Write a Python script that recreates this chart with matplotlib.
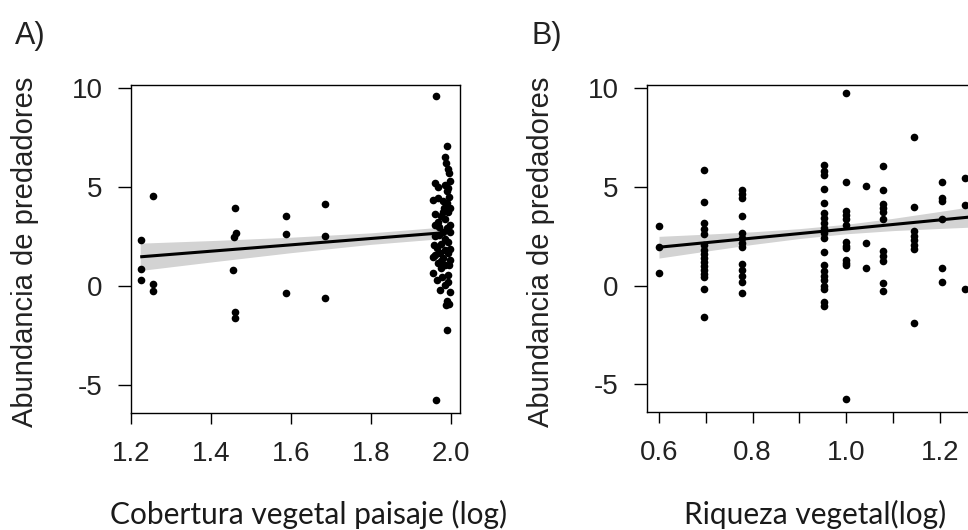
import matplotlib
matplotlib.use("Agg")
import matplotlib.pyplot as plt
import numpy as np

# ---------------- data: panel A ----------------
cobertura_log = [1.224, 1.224, 1.224, 1.254, 1.254, 1.254,
                 1.460, 1.462, 1.458, 1.455, 1.460, 1.460,
                 1.587, 1.587, 1.587, 1.686, 1.686, 1.686,
                 1.963, 1.990, 1.985, 1.987, 1.993, 1.995, 1.960, 1.967, 1.985, 1.993,
                 1.997, 1.990, 1.955, 1.967, 1.990, 1.993, 1.960, 1.980, 1.997, 1.975,
                 1.985, 1.960, 1.967, 1.997, 1.997, 1.980, 1.960, 1.970, 1.985, 1.992,
                 1.975, 1.997, 1.965, 1.985, 1.960, 1.972, 1.992, 1.997, 1.980, 1.967,
                 1.985, 1.975, 1.955, 1.978, 1.992, 1.992, 1.985, 1.972, 1.997, 1.990,
                 1.995, 1.987, 1.990, 1.963, 1.955, 1.958, 1.995, 1.980, 1.970, 1.990,
                 1.975, 1.995, 1.965, 1.982]
abundancia_A = [2.32, 0.89, 0.30, 4.55, 0.13, -0.24,
                3.92, 2.66, 2.49, 0.81, -1.30, -1.63,
                3.54, 2.61, -0.32, 4.14, 2.54, -0.62,
                9.60, 7.07, 6.50, 6.20, 5.90, 5.70, 5.20, 5.00, 5.10, 4.95,
                5.30, 4.80, 4.35, 4.45, 4.20, 3.75, 3.65, 3.75, 3.95, 3.55,
                3.40, 3.10, 3.25, 3.10, 2.75, 2.75, 2.55, 2.60, 2.40, 2.25,
                2.15, 1.90, 1.95, 1.80, 1.55, 1.65, 1.65, 1.30, 1.40, 1.15,
                1.05, 0.90, 0.65, 0.45, 0.55, 0.22, 0.05, -0.20, -0.29, -0.75,
                -0.90, -0.95, -2.22, -5.76, 1.45, 2.10, 4.50, 4.30, 3.00, 2.95,
                1.25, 1.05, 0.30, 3.95]
fitA_x = [1.223, 1.99]
fitA_y = [1.48, 2.71]
bandA_x = [1.223, 1.40, 1.60, 1.80, 1.99]
bandA_lo = [0.79, 1.22, 1.69, 2.11, 2.42]
bandA_hi = [2.17, 2.30, 2.47, 2.69, 3.00]

# ---------------- data: panel B ----------------
riqueza_levels = [0.600, 0.697, 0.777, 0.952, 0.999, 1.042, 1.079, 1.144, 1.204, 1.254]
abundancia_B = [
    [2.99, 1.93, 0.65],
    [5.85, 4.25, 3.16, 2.86, 2.60, 2.05, 1.80, 1.60, 1.40, 1.20, 1.00, 0.80, 0.60, 0.45, -0.15, -1.57],
    [4.82, 4.65, 4.45, 3.52, 2.65, 2.40, 2.15, 1.95, 1.08, 0.80, 0.50, 0.19, -0.37],
    [6.10, 5.80, 5.60, 4.90, 4.20, 3.65, 3.40, 3.15, 2.90, 2.65, 2.40, 1.70, 1.05, 0.75, 0.50, 0.30, 0.00, -0.20, -0.85, -1.05],
    [9.75, 5.25, 3.75, 3.55, 3.35, 3.05, 2.20, 2.00, 1.90, 1.30, 1.15, 1.05, -5.75],
    [5.05, 2.15, 0.90],
    [6.05, 4.85, 4.15, 3.90, 3.70, 3.35, 1.75, 1.50, 1.25, 0.15, -0.30],
    [7.50, 4.00, 2.75, 2.50, 2.30, 2.05, 1.85, -1.90],
    [5.25, 4.45, 4.30, 3.35, 0.87, 0.20],
    [5.45, 4.10, -0.15],
]
fitB_x = [0.60, 1.30]
fitB_y = [1.94, 3.55]
bandB_x = [0.6, 0.7, 0.8, 0.9, 1.0, 1.1, 1.2, 1.3]
bandB_lo = [1.39, 1.74, 2.08, 2.38, 2.62, 2.78, 2.89, 2.99]
bandB_hi = [2.49, 2.60, 2.72, 2.88, 3.10, 3.40, 3.75, 4.11]

xticksA = [1.2, 1.4, 1.6, 1.8, 2.0]
xticklabelsA = ["1.2", "1.4", "1.6", "1.8", "2.0"]
xticksB = [0.6, 0.7, 0.8, 0.9, 1.0, 1.1, 1.2]
xticklabelsB = ["0.6", "", "0.8", "", "1.0", "", "1.2"]
yticks = [-5, 0, 5, 10]
yticklabels = ["-5", "0", "5", "10"]

ylabel = "Abundancia de predadores"
xtitleA = "Cobertura vegetal paisaje (log)"
xtitleB = "Riqueza vegetal(log)"

# ---------------- figure ----------------
W, H = 968, 530
fig = plt.figure(figsize=(W / 100, H / 100), dpi=100)
plt.rcParams['font.family'] = ['Liberation Sans', 'DejaVu Sans']

def px_axes(left, top, right, bottom):
    return fig.add_axes([left / W, 1 - bottom / H, (right - left) / W, (bottom - top) / H])

axA = px_axes(131, 85, 460, 413)
axB = px_axes(647, 85, 976, 412)

xB = [lv for lv, ys in zip(riqueza_levels, abundancia_B) for _ in ys]
yB = [y for ys in abundancia_B for y in ys]

panels = [
    (axA, cobertura_log, abundancia_A, fitA_x, fitA_y, bandA_x, bandA_lo, bandA_hi,
     (1.2, 2.0225), xticksA, xticklabelsA),
    (axB, xB, yB, fitB_x, fitB_y, bandB_x, bandB_lo, bandB_hi,
     (0.5744, 1.2774), xticksB, xticklabelsB),
]

for ax, x, y, fx, fy, bx, blo, bhi, xlim, xt, xtl in panels:
    ax.fill_between(bx, blo, bhi, color="#d3d3d3", linewidth=0, zorder=1)
    ax.plot(x, y, "o", color="black", markersize=5.5, markeredgewidth=0, zorder=2)
    ax.plot(fx, fy, color="black", linewidth=2.2, solid_capstyle="butt", zorder=3)
    ax.set_xlim(*xlim)
    ax.set_ylim(-6.4, 10.15)
    ax.set_xticks(xt)
    ax.set_xticklabels(xtl)
    ax.set_yticks(yticks)
    ax.set_yticklabels(yticklabels)
    for s in ax.spines.values():
        s.set_linewidth(1.0)
        s.set_color("black")
    ax.tick_params(axis="y", direction="out", length=9.5, width=1.0, pad=11,
                   labelsize=20, colors="black", labelcolor="#222222")
    ax.tick_params(axis="x", direction="out", length=8, width=1.0, pad=12,
                   labelsize=20, colors="black", labelcolor="#222222")
    ax.set_ylabel(ylabel, fontsize=21, color="#222222")
    ax.yaxis.set_label_coords(-0.28, 0.49)

fig.text(15 / W, 1 - 44 / H, "A)", fontsize=22, color="#222222", va="baseline", ha="left")
fig.text(531 / W, 1 - 44 / H, "B)", fontsize=22, color="#222222", va="baseline", ha="left")

fig.text(309 / W, 1 - 524 / H, xtitleA, fontsize=21.5, color="#1a1a1a",
         family=["Lato", "DejaVu Sans"], ha="center", va="baseline")
fig.text(815 / W, 1 - 524 / H, xtitleB, fontsize=21.5, color="#1a1a1a",
         family=["Lato", "DejaVu Sans"], ha="center", va="baseline")

fig.savefig("out.png", dpi=100)
